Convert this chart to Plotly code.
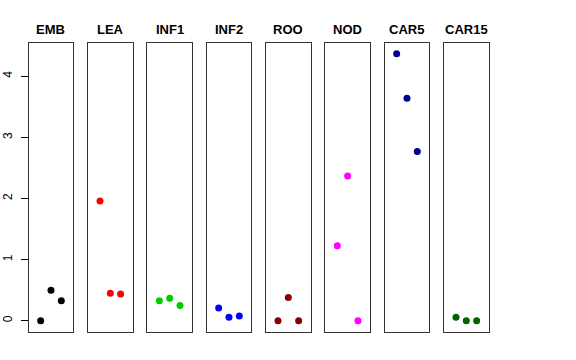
import plotly.graph_objects as go

panels = ["EMB", "LEA", "INF1", "INF2", "ROO", "NOD", "CAR5", "CAR15"]
colors = ["#000000", "#FF0000", "#00CD00", "#0000FF", "#8B0000", "#FF00FF", "#00008B", "#006400"]
x_pos = [1, 2, 3]
emb = [0.00, 0.50, 0.33]
lea = [1.96, 0.45, 0.44]
inf1 = [0.33, 0.37, 0.25]
inf2 = [0.21, 0.06, 0.08]
roo = [0.00, 0.38, 0.00]
nod = [1.23, 2.37, 0.00]
car5 = [4.37, 3.64, 2.77]
car15 = [0.06, 0.00, 0.00]
values = [emb, lea, inf1, inf2, roo, nod, car5, car15]
y_ticks = [0, 1, 2, 3, 4]

W, H = 576, 360
left0, pw, step = 28.7, 44.6, 59.33
top_px, bot_px = 43, 331.5
title_px = 29

fig = go.Figure()
ymax = max(max(v) for v in values)
ypad = 0.04 * ymax
yr = [0 - ypad, ymax + ypad]

for i, (name, col, vals) in enumerate(zip(panels, colors, values)):
    xa = "x" if i == 0 else f"x{i+1}"
    ya = "y" if i == 0 else f"y{i+1}"
    fig.add_trace(go.Scatter(x=x_pos, y=vals, mode="markers",
                             marker=dict(color=col, size=7),
                             xaxis=xa, yaxis=ya, showlegend=False))
    x0 = (left0 + i * step) / W
    x1 = (left0 + i * step + pw) / W
    axx = dict(domain=[x0, x1], range=[-0.16, 4.16], showticklabels=False,
               ticks="", showgrid=False, zeroline=False, showline=True,
               linecolor="#333333", linewidth=1, mirror=True,
               anchor=ya, automargin=False)
    axy = dict(domain=[(H - bot_px) / H, (H - top_px) / H], range=yr,
               showgrid=False, zeroline=False, showline=True,
               linecolor="#333333", linewidth=1, mirror=True, anchor=xa,
               automargin=False)
    if i == 0:
        axy.update(tickvals=y_ticks, ticks="outside", ticklen=7, tickcolor="#000000",
                   tickangle=-90, ticklabelstandoff=4,
                   tickfont=dict(family="Liberation Sans", size=12, color="#000000"))
    else:
        axy.update(showticklabels=False, ticks="")
    key = "" if i == 0 else str(i + 1)
    fig.update_layout(**{f"xaxis{key}": axx, f"yaxis{key}": axy})
    fig.add_annotation(text=f"<b>{name}</b>", x=(x0 + x1) / 2, y=(H - title_px) / H,
                       xref="paper", yref="paper", showarrow=False,
                       xanchor="center", yanchor="middle",
                       font=dict(family="Liberation Sans", size=13, color="#000000"))

fig.update_layout(width=W, height=H, margin=dict(l=0, r=0, t=0, b=0),
                  plot_bgcolor="white", paper_bgcolor="white", hovermode=False)
fig.write_html("out.html", config={"displayModeBar": False},
               post_script="document.body.style.margin='0';document.body.style.overflow='hidden';")
